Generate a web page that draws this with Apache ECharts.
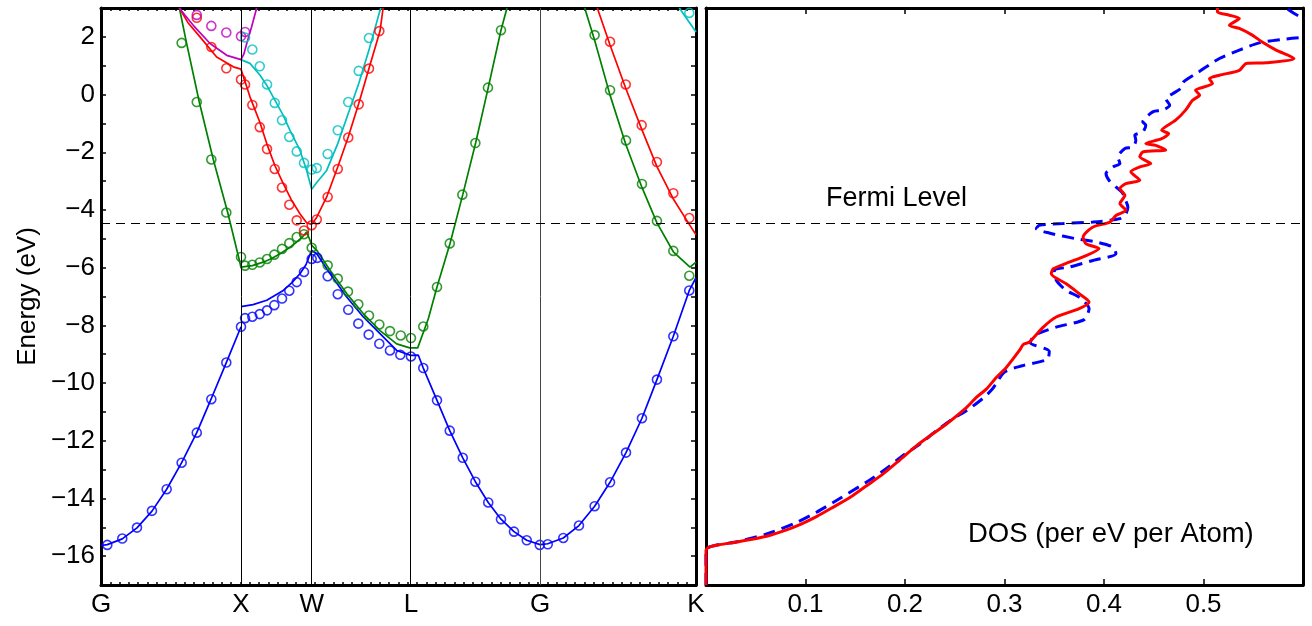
<!DOCTYPE html>
<html><head><meta charset="utf-8">
<script src="https://cdn.jsdelivr.net/npm/echarts@6/dist/echarts.min.js"></script>
<style>html,body{margin:0;padding:0;background:#fff}#c{width:1312px;height:626px}</style>
</head><body><div id="c"></div>
<script>
// ---- symmetry points (path coordinate) and their labels ----
const kPoints = [0, 1.0, 1.505, 2.214, 3.136, 4.25];
const kLabels = ['G', 'X', 'W', 'L', 'G', 'K'];
const fermiLevel = -4.47;
const dosTicks = [0.1, 0.2, 0.3, 0.4, 0.5];

// ---- band lines [k, E] ----
const blueLineGX = [[0,-15.63],[0.045,-15.60],[0.152,-15.40],[0.257,-15.02],[0.364,-14.44],[0.469,-13.68],[0.576,-12.76],[0.684,-11.72],[0.786,-10.56],[0.895,-9.29],[1.0,-8.05]];
const blueLineXK = [[1.0,-7.35],[1.086,-7.28],[1.184,-7.13],[1.302,-6.79],[1.364,-6.52],[1.421,-6.21],[1.464,-5.90],[1.505,-5.40],[1.541,-5.52],[1.636,-6.21],[1.755,-7.02],[1.874,-7.71],[1.993,-8.29],[2.112,-8.87],[2.214,-9.04],[2.266,-9.03],[2.302,-9.48],[2.4,-10.6],[2.491,-11.65],[2.584,-12.59],[2.674,-13.42],[2.766,-14.14],[2.857,-14.72],[2.95,-15.15],[3.041,-15.45],[3.136,-15.60],[3.191,-15.57],[3.302,-15.37],[3.414,-14.94],[3.526,-14.27],[3.636,-13.44],[3.75,-12.41],[3.864,-11.22],[3.971,-9.88],[4.088,-8.38],[4.202,-6.79],[4.25,-6.35]];
const greenLineA = [[0.56,3.0],[0.607,1.88],[0.702,-0.26],[0.802,-2.25],[0.905,-4.09],[1.0,-5.98],[1.081,-5.93],[1.159,-5.81],[1.219,-5.68],[1.279,-5.52],[1.34,-5.33],[1.398,-5.11],[1.44,-4.93],[1.469,-4.77],[1.493,-5.05],[1.505,-5.23],[1.541,-5.40],[1.636,-6.09],[1.755,-6.90],[1.874,-7.60],[1.993,-8.18],[2.112,-8.64],[2.205,-8.78],[2.262,-8.78],[2.338,-7.77],[2.4,-6.67],[2.493,-5.16],[2.584,-3.47],[2.676,-1.68],[2.766,0.24],[2.857,2.23],[2.9,3.0]];
const greenLineB = [[3.455,3.0],[3.526,1.88],[3.636,-0.02],[3.75,-1.75],[3.864,-3.22],[3.971,-4.45],[4.088,-5.45],[4.207,-5.98],[4.25,-5.81]];
const redLineA = [[0.56,3.0],[0.62,2.5],[0.707,2.0],[0.826,1.30],[0.945,0.96],[1.0,0.88],[1.064,-0.08],[1.134,-0.95],[1.184,-1.70],[1.241,-2.45],[1.302,-3.09],[1.36,-3.65],[1.421,-4.13],[1.47,-4.45],[1.505,-4.5],[1.541,-4.25],[1.612,-3.55],[1.691,-2.51],[1.766,-1.47],[1.841,-0.31],[1.914,0.90],[1.993,2.2],[2.015,3.0]];
const redLineB = [[3.545,3.0],[3.636,1.72],[3.748,0.22],[3.862,-1.2],[3.971,-2.5],[4.088,-3.62],[4.202,-4.5],[4.25,-4.86]];
const purpleLine = [[0.56,3.0],[0.6,2.75],[0.659,2.40],[0.779,1.77],[0.898,1.36],[1.0,1.21],[1.02,1.4],[1.041,1.77],[1.076,2.35],[1.112,3.0]];
const cyanLineA = [[1.0,1.21],[1.064,1.08],[1.136,0.67],[1.184,0.32],[1.243,-0.20],[1.302,-0.72],[1.35,-1.24],[1.421,-1.93],[1.469,-2.63],[1.505,-3.28],[1.541,-3.05],[1.612,-2.63],[1.691,-1.70],[1.766,-0.66],[1.841,0.38],[1.914,1.54],[1.993,2.92],[2.0,3.0]];
const cyanLineB = [[4.131,3.0],[4.25,2.17]];

// ---- band circles [k, E] ----
const blueDots = [[0.045,-15.61],[0.152,-15.39],[0.257,-15.01],[0.364,-14.43],[0.469,-13.68],[0.576,-12.76],[0.684,-11.72],[0.788,-10.56],[0.895,-9.29],[1.0,-8.05],[1.029,-7.75],[1.081,-7.70],[1.134,-7.61],[1.186,-7.48],[1.238,-7.30],[1.293,-7.07],[1.345,-6.80],[1.398,-6.50],[1.45,-6.15],[1.505,-5.70],[1.545,-5.66],[1.619,-6.30],[1.691,-6.92],[1.766,-7.46],[1.838,-7.94],[1.912,-8.32],[1.988,-8.64],[2.064,-8.87],[2.138,-9.02],[2.214,-9.08],[2.302,-9.48],[2.4,-10.60],[2.491,-11.65],[2.584,-12.59],[2.674,-13.42],[2.766,-14.14],[2.857,-14.72],[2.95,-15.15],[3.041,-15.45],[3.134,-15.61],[3.191,-15.59],[3.302,-15.37],[3.414,-14.94],[3.526,-14.27],[3.636,-13.44],[3.75,-12.41],[3.864,-11.22],[3.971,-9.88],[4.088,-8.38],[4.202,-6.79]];
const greenDots = [[0.576,1.79],[0.684,-0.26],[0.788,-2.25],[0.895,-4.09],[1.0,-5.63],[1.029,-5.93],[1.081,-5.90],[1.134,-5.82],[1.186,-5.70],[1.238,-5.55],[1.293,-5.35],[1.345,-5.15],[1.398,-4.94],[1.45,-4.84],[1.505,-5.31],[1.619,-5.92],[1.691,-6.38],[1.764,-6.83],[1.838,-7.27],[1.914,-7.66],[1.988,-7.97],[2.064,-8.20],[2.141,-8.35],[2.214,-8.44],[2.302,-8.04],[2.4,-6.67],[2.491,-5.16],[2.581,-3.47],[2.674,-1.68],[2.764,0.24],[2.857,2.23],[3.526,2.06],[3.636,0.15],[3.75,-1.59],[3.864,-3.10],[3.971,-4.38],[4.088,-5.42],[4.202,-6.28]];
const redDots = [[0.684,2.66],[0.788,1.65],[0.895,0.91],[1.0,0.52],[1.029,0.35],[1.081,-0.36],[1.134,-1.13],[1.186,-1.89],[1.241,-2.58],[1.293,-3.22],[1.345,-3.82],[1.398,-4.36],[1.45,-4.71],[1.505,-4.53],[1.541,-4.33],[1.619,-3.55],[1.691,-2.58],[1.766,-1.49],[1.841,-0.34],[1.914,0.90],[1.988,2.20],[3.636,1.83],[3.748,0.35],[3.862,-1.06],[3.971,-2.34],[4.088,-3.42],[4.202,-4.28]];
const purpleDots = [[0.684,2.76],[0.788,2.38],[0.895,2.15],[1.0,2.02],[1.029,2.17]];
const cyanDots = [[1.029,1.98],[1.081,1.56],[1.134,0.98],[1.186,0.35],[1.241,-0.29],[1.293,-0.89],[1.345,-1.47],[1.398,-1.97],[1.45,-2.37],[1.505,-2.60],[1.541,-2.55],[1.619,-2.06],[1.691,-1.24],[1.766,-0.26],[1.841,0.82],[1.914,1.96],[4.202,2.83]];

// ---- DOS curves [dos, E] ----
const dosRed = [[0,-17],[0,-15.80],[0.004,-15.67],[0.014,-15.60],[0.034,-15.49],[0.061,-15.31],[0.081,-15.09],[0.095,-14.90],[0.111,-14.63],[0.128,-14.30],[0.145,-13.96],[0.161,-13.57],[0.178,-13.15],[0.195,-12.66],[0.212,-12.16],[0.228,-11.76],[0.242,-11.41],[0.262,-10.84],[0.272,-10.49],[0.282,-10.20],[0.292,-9.80],[0.302,-9.45],[0.315,-8.87],[0.319,-8.66],[0.325,-8.58],[0.339,-8.06],[0.352,-7.71],[0.375,-7.42],[0.385,-7.19],[0.375,-6.90],[0.362,-6.56],[0.347,-6.21],[0.349,-6.04],[0.365,-5.81],[0.379,-5.63],[0.395,-5.34],[0.382,-5.17],[0.379,-4.94],[0.389,-4.59],[0.406,-4.42],[0.412,-4.19],[0.422,-4.01],[0.416,-3.78],[0.421,-3.49],[0.416,-3.26],[0.422,-3.09],[0.436,-2.97],[0.427,-2.68],[0.436,-2.51],[0.447,-2.39],[0.436,-2.16],[0.439,-1.99],[0.462,-1.92],[0.452,-1.76],[0.442,-1.70],[0.458,-1.53],[0.465,-1.35],[0.458,-1.24],[0.472,-0.89],[0.482,-0.54],[0.489,-0.20],[0.496,-0.02],[0.492,0.15],[0.509,0.38],[0.506,0.55],[0.516,0.67],[0.536,0.84],[0.543,1.08],[0.563,1.10],[0.591,1.25],[0.573,1.54],[0.559,1.82],[0.549,2.06],[0.536,2.29],[0.526,2.40],[0.536,2.64],[0.526,2.75],[0.514,2.86],[0.514,3.0]];
const dosBlue = [[0,-17],[0,-15.80],[0.034,-15.48],[0.061,-15.23],[0.088,-14.88],[0.111,-14.48],[0.134,-14.01],[0.161,-13.44],[0.181,-12.97],[0.198,-12.51],[0.215,-12.11],[0.232,-11.64],[0.248,-11.24],[0.262,-10.95],[0.278,-10.54],[0.288,-10.20],[0.30,-9.62],[0.318,-9.40],[0.343,-9.18],[0.345,-8.90],[0.326,-8.60],[0.33,-8.35],[0.352,-8.06],[0.38,-7.80],[0.385,-7.42],[0.375,-7.02],[0.362,-6.79],[0.352,-6.44],[0.350,-6.09],[0.365,-5.98],[0.389,-5.75],[0.412,-5.52],[0.409,-5.29],[0.392,-5.11],[0.372,-5.0],[0.345,-4.80],[0.332,-4.65],[0.335,-4.53],[0.359,-4.47],[0.389,-4.42],[0.416,-4.30],[0.422,-4.13],[0.424,-3.90],[0.421,-3.61],[0.419,-3.43],[0.412,-3.20],[0.405,-2.97],[0.402,-2.74],[0.409,-2.51],[0.416,-2.39],[0.414,-2.16],[0.421,-1.87],[0.429,-1.82],[0.432,-1.59],[0.431,-1.41],[0.439,-1.30],[0.442,-1.06],[0.439,-0.95],[0.449,-0.60],[0.459,-0.54],[0.466,-0.37],[0.462,-0.14],[0.469,0.03],[0.477,0.21],[0.480,0.44],[0.495,0.78],[0.516,1.25],[0.536,1.54],[0.556,1.79],[0.579,1.91],[0.599,1.98],[0.64,2.1],[0.64,2.5],[0.598,2.69],[0.583,3.0]];

// ---- styling ----
const FONT = 'Liberation Sans';
const FS = 26;
const C = {blue:'#0000ff', green:'#008000', red:'#ff0000', purple:'#bf00bf', cyan:'#00bfbf'};
const minorK = [];
for (let i = 0; i <= 64; i++) minorK.push(+(i * 4.25 / 64).toFixed(4));
const axLine = {show:true, onZero:false, lineStyle:{color:'#000', width:3}};

function bandLine(data, color, extra) {
  return Object.assign({type:'line', xAxisIndex:0, yAxisIndex:0, data, symbol:'none', showSymbol:false,
    lineStyle:{color, width:1.7}, itemStyle:{color}, silent:true, z:3}, extra || {});
}
function bandDots(data, color) {
  return {type:'scatter', xAxisIndex:0, yAxisIndex:0, data, symbol:'circle', symbolSize:9,
    itemStyle:{color:'rgba(0,0,0,0)', borderColor:color, borderWidth:1.6}, silent:true, z:4};
}
function nearestLabel(v) {
  let best = 0;
  kPoints.forEach((p, i) => { if (Math.abs(p - v) < Math.abs(kPoints[best] - v)) best = i; });
  return kLabels[best];
}
const vLine = {color:'#000', width:1, type:'solid'};
const fLine = {color:'#000', width:1, type:[9, 6]};

const option = {
  animation: false,
  backgroundColor: '#fff',
  textStyle: {fontFamily: FONT},
  grid: [
    {left:101, top:8, width:595, height:577},
    {left:706, top:8, width:597, height:577}
  ],
  xAxis: [
    {gridIndex:0, type:'value', position:'bottom', min:0, max:4.25, axisLine:axLine,
      axisTick:{show:true, inside:true, length:3, customValues:minorK, lineStyle:{color:'#000', width:1.5}},
      axisLabel:{show:true, customValues:kPoints, formatter:nearestLabel, color:'#000', fontSize:FS, fontFamily:FONT, margin:7},
      splitLine:{show:false}},
    {gridIndex:0, type:'value', position:'top', min:0, max:4.25, axisLine:axLine,
      axisTick:{show:true, inside:true, length:3, customValues:minorK, lineStyle:{color:'#000', width:1.5}},
      axisLabel:{show:false}, splitLine:{show:false}},
    {gridIndex:1, type:'value', position:'bottom', min:0, max:0.6, interval:0.1, axisLine:axLine,
      axisTick:{show:true, inside:true, length:6, lineStyle:{color:'#000', width:1.5}},
      axisLabel:{show:true, color:'#000', fontSize:FS, fontFamily:FONT, margin:7,
        formatter: v => { const r = Math.round(v * 10); return (r >= 1 && r <= 5) ? dosTicks[r - 1].toFixed(1) : ''; }},
      splitLine:{show:false}},
    {gridIndex:1, type:'value', position:'top', min:0, max:0.6, interval:0.1, axisLine:axLine,
      axisTick:{show:true, inside:true, length:6, lineStyle:{color:'#000', width:1.5}},
      axisLabel:{show:false}, splitLine:{show:false}}
  ],
  yAxis: [
    {gridIndex:0, type:'value', position:'left', min:-17, max:3, interval:1, axisLine:axLine,
      name:'Energy (eV)', nameLocation:'middle', nameRotate:90, nameGap:60,
      nameTextStyle:{color:'#000', fontSize:FS, fontFamily:FONT},
      axisTick:{show:true, inside:true, length:5, lineStyle:{color:'#000', width:1.5}},
      axisLabel:{show:true, color:'#000', fontSize:FS, fontFamily:FONT, margin:6,
        formatter: v => (Math.round(v) % 2 === 0) ? (v < 0 ? '\u2212' + (-v) : String(v)) : ''},
      splitLine:{show:false}},
    {gridIndex:0, type:'value', position:'right', min:-17, max:3, interval:1, axisLine:axLine,
      axisTick:{show:true, inside:true, length:5, lineStyle:{color:'#000', width:1.5}},
      axisLabel:{show:false}, splitLine:{show:false}},
    {gridIndex:1, type:'value', position:'left', min:-17, max:3, axisLine:axLine,
      axisTick:{show:false}, axisLabel:{show:false}, splitLine:{show:false}},
    {gridIndex:1, type:'value', position:'right', min:-17, max:3, axisLine:axLine,
      axisTick:{show:false}, axisLabel:{show:false}, splitLine:{show:false}}
  ],
  graphic: [
    {type:'text', left:826, top:185, z:10, style:{text:'Fermi Level', fill:'#000', font:'27px ' + FONT}},
    {type:'text', left:968, top:520, z:10, style:{text:'DOS (per eV per Atom)', fill:'#000', font:'27.5px ' + FONT}}
  ],
  series: [
    bandLine(blueLineGX, C.blue, {z:2, markLine:{silent:true, symbol:['none','none'], label:{show:false}, animation:false,
      data:[
        {xAxis:kPoints[1], lineStyle:vLine}, {xAxis:kPoints[2], lineStyle:vLine},
        {xAxis:kPoints[3], lineStyle:vLine}, {xAxis:kPoints[4], lineStyle:{color:'#444', width:1, type:'solid'}},
        {yAxis:fermiLevel, lineStyle:fLine}
      ]}}),
    bandLine(blueLineXK, C.blue),
    bandLine(greenLineA, C.green),
    bandLine(greenLineB, C.green),
    bandLine(redLineA, C.red),
    bandLine(redLineB, C.red),
    bandLine(purpleLine, C.purple),
    bandLine(cyanLineA, C.cyan),
    bandLine(cyanLineB, C.cyan),
    bandDots(blueDots, C.blue),
    bandDots(greenDots, C.green),
    bandDots(redDots, C.red),
    bandDots(purpleDots, C.purple),
    bandDots(cyanDots, C.cyan),
    {type:'line', xAxisIndex:2, yAxisIndex:2, data:dosBlue, symbol:'none', showSymbol:false, silent:true, z:3, smooth:0.25,
      lineStyle:{color:C.blue, width:3, type:[12, 7]}, itemStyle:{color:C.blue},
      markLine:{silent:true, symbol:['none','none'], label:{show:false}, animation:false,
        data:[{yAxis:fermiLevel, lineStyle:fLine}]}},
    {type:'line', xAxisIndex:2, yAxisIndex:2, data:dosRed, symbol:'none', showSymbol:false, silent:true, z:4, smooth:0.25,
      lineStyle:{color:C.red, width:3}, itemStyle:{color:C.red}}
  ]
};
const chart = echarts.init(document.getElementById('c'), null, {renderer:'canvas'});
chart.setOption(option);
</script></body></html>
